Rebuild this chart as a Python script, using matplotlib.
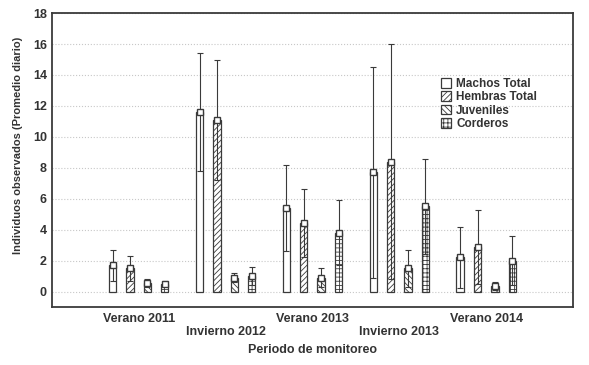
import numpy as np
import matplotlib
matplotlib.use("Agg")
import matplotlib.pyplot as plt

plt.rcParams['font.family'] = ['Liberation Sans', 'DejaVu Sans']
plt.rcParams['font.weight'] = 'bold'
plt.rcParams['axes.labelweight'] = 'bold'

periods = ['Verano 2011', 'Invierno 2012', 'Verano 2013', 'Invierno 2013', 'Verano 2014']
series = ['Machos Total', 'Hembras Total', 'Juveniles', 'Corderos']

machos = [1.7, 11.6, 5.4, 7.7, 2.2]
machos_sd = [1.0, 3.8, 2.8, 6.8, 2.0]
hembras = [1.5, 11.1, 4.4, 8.4, 2.9]
hembras_sd = [0.8, 3.9, 2.2, 7.6, 2.4]
juveniles = [0.55, 0.9, 0.9, 1.5, 0.35]
juveniles_sd = [0.25, 0.3, 0.6, 1.2, 0.25]
corderos = [0.5, 1.0, 3.8, 5.5, 2.0]
corderos_sd = [0.15, 0.6, 2.1, 3.1, 1.6]

means = [machos, hembras, juveniles, corderos]
sds = [machos_sd, hembras_sd, juveniles_sd, corderos_sd]
hatches = ['', '//////', '\\\\\\\\\\\\', '++++']

dark = '#3a3a3a'
txt = '#333333'
plt.rcParams['hatch.color'] = dark
plt.rcParams['hatch.linewidth'] = 0.6

fig = plt.figure(figsize=(5.89, 3.65), dpi=100)
ax = fig.add_axes([0.088, 0.159, 0.885, 0.805])

x = np.arange(1, len(periods) + 1)
offsets = [-0.30, -0.10, 0.10, 0.30]
width = 0.085

for i in range(4):
    xs = x + offsets[i]
    ax.bar(xs, means[i], width=width, bottom=0, color='white', edgecolor=dark,
           hatch=hatches[i], linewidth=0.9, label=series[i], zorder=3)
    ax.errorbar(xs, means[i], yerr=sds[i], fmt='s', color=dark, mfc='white',
                mec=dark, ms=4, elinewidth=0.8, capsize=2, capthick=0.8, zorder=4)

ax.set_xlim(0, 6)
ax.set_ylim(-1, 18)
ax.set_yticks(np.arange(0, 19, 2))
ax.set_xticks(x)
ax.set_xticklabels([p if k % 2 == 0 else '\n' + p for k, p in enumerate(periods)],
                   fontsize=9, color=txt)
ax.tick_params(axis='y', labelsize=9, labelcolor=txt, length=0)
ax.tick_params(axis='x', length=0, pad=4)
ax.tick_params(which='both', top=False, right=True, direction='in', color=dark)
ax.yaxis.grid(True, color='#c8c8c8', linestyle=':', linewidth=0.8, zorder=0)

for s in ax.spines.values():
    s.set_color(dark)
    s.set_linewidth(1.3)

ax.set_ylabel('Individuos observados (Promedio diario)', fontsize=8, color=txt)
ax.yaxis.set_label_coords(-0.055, 0.55)
ax.set_xlabel('Periodo de monitoreo', fontsize=9, color=txt, labelpad=4)

leg = ax.legend(loc='upper left', bbox_to_anchor=(0.735, 0.80), frameon=False,
                fontsize=8.5, handlelength=0.9, handleheight=0.9, handletextpad=0.4,
                labelspacing=0.12, borderpad=0)
for t in leg.get_texts():
    t.set_color(txt)

fig.savefig('out.png', dpi=100)
